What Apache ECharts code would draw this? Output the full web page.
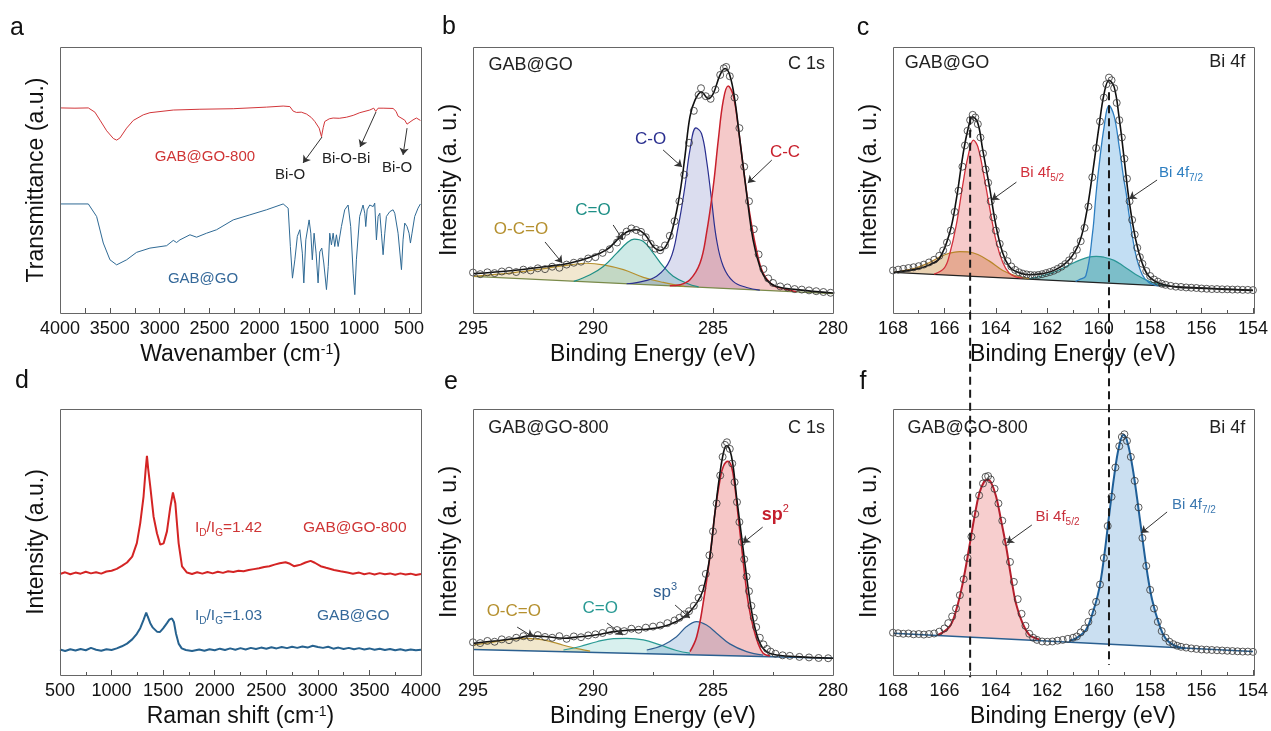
<!DOCTYPE html>
<html lang="en">
<head>
<meta charset="UTF-8">
<title>FTIR / Raman / XPS</title>
<script src="https://cdn.jsdelivr.net/npm/echarts@6/dist/echarts.min.js"></script>
<style>
  html, body { margin: 0; padding: 0; background: #fff; }
  #main { width: 1271px; height: 731px; }
</style>
</head>
<body>
<div id="main"></div>
<script>
// ---------- data ----------
// (a) FTIR, wavenumber (cm-1) vs transmittance (a.u.)
var ftirTicks = [4000, 3500, 3000, 2500, 2000, 1500, 1000, 500];
var ftirMinorTicks = [4000, 3750, 3500, 3250, 3000, 2750, 2500, 2250, 2000, 1750, 1500, 1250, 1000, 750, 500];
var ftirGO800 = [[4000,77.1],[3850,77.0],[3716,77.1],[3650,75.5],[3599,72.5],[3532,68.5],[3465,65.6],[3432,65.0],[3399,65.8],[3332,69.5],[3265,72.4],[3165,74.5],[3098,75.3],[2864,76.3],[2597,76.6],[2263,76.8],[1929,77.4],[1762,77.8],[1695,77.6],[1662,75.9],[1629,75.4],[1580,75.5],[1528,74.8],[1480,73.5],[1445,72.0],[1401,69.5],[1378,66.3],[1360,69.8],[1345,72.0],[1300,73.0],[1261,73.3],[1200,73.2],[1128,73.6],[1060,74.3],[994,75.3],[894,76.3],[854,77.0],[834,75.8],[810,77.0],[760,77.0],[660,76.9],[630,75.8],[610,74.0],[543,72.5],[520,71.0],[510,70.3],[490,71.8],[460,72.6],[426,73.3],[386,72.4]];
var ftirGO = [[4000,41.0],[3716,41.0],[3633,36.3],[3566,26.3],[3499,20.0],[3432,18.1],[3332,20.0],[3232,22.8],[3098,24.4],[2931,25.3],[2864,27.3],[2831,26.5],[2797,27.5],[2697,29.4],[2630,28.5],[2530,30.0],[2430,31.3],[2263,35.0],[2096,36.9],[1929,38.8],[1762,41.0],[1745,41.5],[1712,39.4],[1690,25.0],[1669,13.1],[1645,20.0],[1620,28.8],[1595,31.3],[1570,22.5],[1555,11.3],[1535,27.5],[1502,35.0],[1485,30.0],[1470,20.0],[1452,30.0],[1432,22.5],[1412,11.3],[1395,23.0],[1375,24.4],[1355,18.8],[1328,8.8],[1310,17.5],[1295,30.0],[1278,25.6],[1261,30.0],[1245,25.0],[1228,29.4],[1211,25.0],[1178,32.5],[1145,38.8],[1111,40.6],[1085,32.5],[1060,15.0],[1044,6.9],[1028,20.0],[995,36.3],[961,40.6],[944,37.5],[934,32.5],[920,38.8],[894,40.6],[860,40.0],[844,41.3],[827,27.5],[810,36.3],[793,37.5],[777,30.0],[760,21.9],[743,30.0],[727,36.3],[693,38.1],[660,38.8],[643,37.5],[610,30.0],[576,16.3],[560,27.5],[543,33.8],[520,32.5],[500,30.0],[486,26.3],[470,30.0],[443,36.3],[410,39.4],[386,41.0]];

// (d) Raman, shift (cm-1) vs intensity
var ramanGO800 = [[500,38.0],[550,38.6],[600,37.9],[650,38.5],[700,38.1],[750,38.8],[800,38.2],[850,38.6],[900,38.1],[950,38.9],[1000,39.2],[1050,39.9],[1100,41.0],[1150,42.3],[1200,44.5],[1245,49.6],[1278,57.1],[1310,67.1],[1330,77.0],[1343,82.4],[1355,77.5],[1375,70.9],[1407,59.6],[1440,53.3],[1472,49.0],[1505,49.5],[1537,54.0],[1569,63.0],[1595,68.6],[1618,64.6],[1635,56.5],[1650,49.6],[1683,40.8],[1731,38.5],[1780,38.0],[1830,38.6],[1880,38.1],[1930,38.7],[1980,38.2],[2030,38.8],[2080,38.4],[2130,39.0],[2180,38.7],[2230,39.2],[2280,39.0],[2330,39.5],[2380,39.8],[2430,40.1],[2480,40.6],[2530,40.9],[2580,41.5],[2630,42.0],[2687,42.4],[2730,41.8],[2768,40.9],[2800,41.2],[2833,41.5],[2880,42.3],[2930,42.9],[2970,42.2],[3027,40.9],[3080,40.3],[3157,39.5],[3220,39.0],[3287,38.5],[3340,38.1],[3400,38.5],[3450,37.9],[3500,38.3],[3550,37.8],[3600,38.3],[3650,37.9],[3700,38.2],[3750,37.7],[3800,38.2],[3850,37.8],[3900,38.1],[3950,37.6],[4000,38.0]];
var ramanGO = [[500,9.6],[550,9.0],[600,9.7],[650,9.2],[700,9.8],[750,9.3],[800,10.2],[850,9.5],[900,9.1],[950,9.7],[1000,9.4],[1050,10.0],[1100,10.8],[1150,11.8],[1200,13.4],[1245,15.5],[1278,17.6],[1310,20.7],[1336,23.5],[1350,22.0],[1375,19.5],[1400,17.8],[1440,16.3],[1470,16.2],[1500,17.5],[1537,19.5],[1560,20.8],[1585,21.3],[1605,19.8],[1625,15.5],[1650,11.8],[1680,10.0],[1720,9.4],[1780,9.0],[1850,9.6],[1900,9.1],[1950,9.7],[2000,9.3],[2050,9.9],[2100,9.4],[2150,10.0],[2200,9.5],[2250,10.1],[2300,9.6],[2350,10.2],[2400,9.8],[2450,10.3],[2500,9.9],[2550,10.4],[2600,10.0],[2650,10.5],[2700,10.1],[2750,10.6],[2800,10.2],[2850,10.7],[2900,10.3],[2950,11.0],[3000,10.5],[3050,10.2],[3100,10.6],[3150,9.9],[3200,10.3],[3250,9.8],[3300,10.2],[3350,9.7],[3400,10.1],[3450,9.6],[3500,10.0],[3550,9.5],[3600,9.9],[3650,9.4],[3700,9.8],[3750,9.3],[3800,9.7],[3850,9.2],[3900,9.6],[3950,9.3],[4000,9.5]];

// (b) C 1s, GAB@GO
var c1sGOPoints = [[295,15.2],[294.7,14.6],[294.4,15.3],[294.1,15.0],[293.8,15.6],[293.5,15.9],[293.2,15.4],[292.9,16.3],[292.6,16.0],[292.3,16.8],[292.0,16.5],[291.7,17.4],[291.4,17.0],[291.1,18.2],[290.8,18.9],[290.5,19.3],[290.2,20.5],[289.9,21.0],[289.6,22.6],[289.3,24.0],[289.0,26.5],[288.8,29.0],[288.6,30.6],[288.4,31.8],[288.2,31.2],[288.0,30.5],[287.8,28.5],[287.6,26.0],[287.4,24.2],[287.2,23.6],[287.0,25.4],[286.8,29.0],[286.6,34.5],[286.4,42.0],[286.2,52.0],[286.0,64.0],[285.8,76.0],[285.6,82.0],[285.5,84.5],[285.3,81.5],[285.1,80.5],[284.9,84.0],[284.7,89.5],[284.55,92.0],[284.45,92.5],[284.3,89.0],[284.1,81.0],[283.9,69.5],[283.7,55.0],[283.5,42.0],[283.3,31.5],[283.1,22.0],[282.9,16.5],[282.7,13.0],[282.5,11.3],[282.2,10.0],[281.9,9.6],[281.6,9.0],[281.3,8.8],[281.0,8.5],[280.7,8.2],[280.4,7.9],[280.1,7.6]];
var c1sGOFit = [[295,14.8],[293.31,16.0],[291.92,17.5],[290.95,18.8],[290.12,21.0],[289.43,23.8],[288.87,28.5],[288.46,31.0],[288.18,31.3],[287.83,29.4],[287.49,25.0],[287.21,23.5],[286.93,25.6],[286.66,32.5],[286.38,45.0],[286.17,58.8],[285.96,73.8],[285.75,80.0],[285.48,83.1],[285.2,80.6],[284.99,82.5],[284.71,89.4],[284.5,91.9],[284.3,89.4],[284.09,80.0],[283.88,65.0],[283.6,45.0],[283.33,27.5],[283.05,17.5],[282.77,12.5],[282.36,10.0],[281.52,8.8],[280,7.5]];
var c1sGOBase = [[295,13.75],[280,7.25]];
var c1sGO_OCO = [[295,13.8],[293.3,15.2],[291.9,16.9],[290.95,18.1],[290.26,18.7],[289.57,18.1],[288.73,16.3],[287.9,13.4],[287.07,11.5],[286.2,10.0]];
var c1sGO_CdO = [[290.8,11.9],[290.12,14.4],[289.57,17.5],[289.01,22.5],[288.59,26.3],[288.29,27.8],[287.9,26.9],[287.49,22.5],[287.07,17.5],[286.66,13.8],[286.1,11.2],[285.6,9.8]];
var c1sGO_CO = [[288.6,11.0],[288.18,11.4],[287.35,13.8],[286.79,20.0],[286.45,32.5],[286.17,47.5],[285.96,61.3],[285.71,69.6],[285.48,67.5],[285.27,57.5],[285.06,42.5],[284.85,27.5],[284.57,17.5],[284.16,11.9],[283.6,9.6],[283.05,8.6]];
var c1sGO_CC = [[286.8,10.2],[286.38,10.6],[285.96,12.5],[285.54,18.8],[285.27,30.0],[284.99,47.5],[284.78,65.0],[284.57,80.0],[284.37,85.3],[284.16,81.9],[283.95,70.0],[283.74,55.0],[283.47,37.5],[283.19,23.8],[282.91,15.0],[282.5,10.4],[282.08,9.2],[281.52,8.0]];

// (c) Bi 4f, GAB@GO
var bi4fGOPoints = [[168,16.0],[167.8,16.3],[167.6,16.6],[167.4,16.9],[167.2,17.2],[167.0,17.6],[166.8,18.2],[166.6,19.0],[166.4,20.0],[166.2,21.5],[166.05,23.5],[165.9,26.5],[165.75,31],[165.6,38],[165.45,46],[165.3,55],[165.2,63],[165.1,68.5],[165.0,72.5],[164.9,74.5],[164.8,73.5],[164.7,71],[164.6,66],[164.5,60],[164.4,54],[164.3,49],[164.2,42],[164.1,36],[164.0,31],[163.85,26],[163.7,22],[163.55,19.5],[163.4,17.5],[163.25,16.2],[163.1,15.3],[162.95,14.8],[162.8,14.5],[162.65,14.3],[162.5,14.2],[162.35,14.3],[162.2,14.6],[162.05,15.0],[161.9,15.4],[161.75,15.9],[161.6,16.6],[161.45,17.4],[161.3,18.4],[161.15,19.8],[161.0,21.5],[160.85,23.8],[160.7,27],[160.55,32],[160.4,40],[160.25,51],[160.1,62],[159.95,72],[159.8,81],[159.7,86],[159.6,88.5],[159.5,87.5],[159.4,84.5],[159.3,79],[159.2,72.5],[159.1,66],[159.0,58],[158.9,50.5],[158.8,42],[158.7,35],[158.6,29.5],[158.5,24.5],[158.4,21],[158.3,18.5],[158.15,15.8],[158.0,13.9],[157.85,12.6],[157.7,11.8],[157.55,11.0],[157.4,10.6],[157.2,10.2],[157.0,9.9],[156.8,9.8],[156.6,9.6],[156.4,9.5],[156.2,9.4],[156.0,9.2],[155.8,9.1],[155.6,9.0],[155.4,9.0],[155.2,8.9],[155.0,8.9],[154.8,8.8],[154.6,8.8],[154.4,8.7],[154.2,8.7],[154.0,8.6]];
var bi4fGOFit = [[168,15.25],[167.1,16.5],[166.58,18.1],[166.19,20.6],[165.8,30.0],[165.54,42.5],[165.29,58.8],[165.09,68.8],[164.9,73.8],[164.7,71.3],[164.51,61.3],[164.25,47.5],[163.99,32.5],[163.73,22.5],[163.48,17.5],[163.22,15.6],[162.7,14.4],[162.18,14.8],[161.67,16.3],[161.15,20.0],[160.76,26.3],[160.5,36.3],[160.24,52.5],[159.99,70.0],[159.79,82.5],[159.6,87.5],[159.4,85.0],[159.21,73.8],[159.02,58.8],[158.82,42.5],[158.56,27.5],[158.31,18.8],[158.05,13.8],[157.66,11.3],[157.01,9.8],[156.11,9.3],[155.07,8.9],[154,8.5]];
var bi4fGOBase = [[168,15.25],[154,8.5]];
var bi4fGO_sat52 = [[168,15.3],[167.1,17.0],[166.58,19.0],[166.19,21.0],[165.8,22.5],[165.41,23.1],[165.09,23.0],[164.7,22.0],[164.25,19.5],[163.73,16.0],[163.22,14.0],[162.7,12.9]];
var bi4fGO_52 = [[166.4,14.6],[166.0,17.0],[165.8,22.0],[165.54,33.0],[165.29,48.0],[165.09,58.5],[164.87,65.0],[164.7,62.5],[164.51,54.0],[164.25,40.0],[163.99,27.0],[163.73,19.0],[163.48,15.0],[163.22,13.6],[162.96,13.2]];
var bi4fGO_sat72 = [[162.7,12.9],[162.2,14.0],[161.67,15.6],[161.15,18.0],[160.76,19.8],[160.4,21.0],[160.1,21.3],[159.8,21.0],[159.4,19.8],[159.02,17.5],[158.56,14.5],[158.05,12.0],[157.66,10.9],[157.27,10.3]];
var bi4fGO_72 = [[160.9,11.9],[160.76,12.5],[160.5,14.0],[160.24,30.0],[160.11,44.0],[159.99,55.0],[159.79,70.0],[159.6,78.0],[159.4,74.0],[159.21,63.0],[159.02,50.0],[158.93,45.0],[158.82,37.0],[158.56,22.0],[158.31,14.5],[158.05,11.5],[157.66,10.2]];

// (e) C 1s, GAB@GO-800
var c1s800Points = [[295,12.3],[294.7,12.0],[294.4,12.8],[294.1,12.5],[293.8,13.4],[293.5,13.1],[293.2,14.0],[292.9,14.6],[292.6,14.2],[292.3,15.0],[292.0,14.3],[291.7,14.0],[291.4,14.6],[291.1,13.6],[290.8,14.5],[290.5,14.2],[290.2,14.9],[289.9,15.3],[289.6,15.8],[289.3,16.6],[289.0,16.9],[288.7,16.5],[288.4,17.4],[288.1,17.0],[287.8,17.8],[287.5,18.2],[287.2,18.6],[286.9,19.5],[286.6,20.5],[286.4,21.5],[286.2,22.8],[286.0,24.0],[285.8,26.0],[285.6,29.0],[285.45,32.5],[285.3,38.0],[285.15,45.0],[285.0,54.0],[284.85,64.5],[284.7,75.0],[284.6,82.0],[284.5,86.5],[284.42,87.5],[284.3,85.0],[284.2,79.5],[284.1,72.5],[284.0,65.0],[283.9,57.5],[283.8,50.0],[283.7,43.5],[283.6,37.0],[283.5,31.5],[283.4,26.0],[283.3,21.5],[283.2,18.0],[283.05,14.0],[282.9,11.5],[282.75,9.8],[282.6,8.8],[282.4,8.0],[282.1,7.4],[281.8,7.2],[281.4,6.8],[281.0,6.6],[280.6,6.4],[280.2,6.3]];
var c1s800Fit = [[295,11.9],[294.0,12.9],[293.17,13.8],[292.62,14.7],[291.92,14.4],[291.23,13.8],[290.54,14.4],[289.84,15.1],[289.15,16.3],[288.46,16.9],[287.76,17.2],[287.07,18.2],[286.52,20.1],[286.1,22.6],[285.68,27.0],[285.41,32.0],[285.13,44.5],[284.92,60.9],[284.71,75.9],[284.55,84.1],[284.44,86.2],[284.3,84.7],[284.16,78.4],[284.02,67.1],[283.81,52.1],[283.6,37.0],[283.4,24.5],[283.19,15.7],[282.91,10.0],[282.5,7.8],[281.52,6.9],[280,6.3]];
var c1s800Base = [[295,9.6],[280,6.3]];
var c1s800_OCO = [[295,11.2],[294.28,12.2],[293.59,13.2],[292.75,13.8],[292.06,13.2],[291.23,11.2],[290.54,9.7],[290.12,9.0]];
var c1s800_CdO = [[291.23,9.4],[290.54,10.7],[289.84,12.5],[289.15,13.7],[288.59,13.8],[287.9,13.2],[287.21,11.3],[286.52,9.2],[285.96,8.2]];
var c1s800_sp3 = [[287.76,9.4],[287.07,11.3],[286.52,14.4],[286.1,18.2],[285.68,20.1],[285.27,18.8],[284.85,15.7],[284.3,11.7],[283.6,8.8],[282.91,7.5]];
var c1s800_sp2 = [[285.96,8.8],[285.68,14.4],[285.41,27.0],[285.13,44.5],[284.92,60.9],[284.71,73.4],[284.57,78.4],[284.39,80.3],[284.23,78.4],[284.09,70.9],[283.95,59.6],[283.81,48.3],[283.67,37.0],[283.53,27.0],[283.33,18.2],[283.12,11.9],[282.91,8.2],[282.63,7.2]];

// (f) Bi 4f, GAB@GO-800
var bi4f800Points = [[168,15.9],[167.8,15.7],[167.6,15.5],[167.4,15.6],[167.2,15.3],[167.0,15.4],[166.8,15.2],[166.6,15.4],[166.4,15.6],[166.2,16.3],[166.0,17.5],[165.85,19.5],[165.7,22],[165.55,25],[165.4,30],[165.25,36],[165.1,44],[164.95,52],[164.8,60.5],[164.65,67.5],[164.5,72],[164.4,74.5],[164.3,74.8],[164.2,73.5],[164.05,70],[163.9,64.5],[163.75,58],[163.6,50],[163.45,42.5],[163.3,35],[163.15,28.5],[163.0,23],[162.85,18.5],[162.7,15.5],[162.55,14.0],[162.4,13.2],[162.2,12.6],[162.0,12.5],[161.8,12.6],[161.6,12.9],[161.4,13.2],[161.2,13.6],[161.0,14.0],[160.85,14.5],[160.7,16],[160.55,17.5],[160.4,20],[160.25,23.5],[160.1,27.5],[159.95,34],[159.8,44],[159.65,56],[159.5,67],[159.35,78],[159.2,86],[159.1,89.5],[159.0,90.5],[158.9,88],[158.75,82],[158.6,73],[158.45,63],[158.3,51.5],[158.15,41],[158.0,32],[157.85,25],[157.7,20],[157.55,16.5],[157.4,14],[157.25,12.5],[157.1,11.6],[156.95,11.0],[156.8,10.6],[156.6,10.3],[156.4,10.0],[156.2,9.8],[156.0,9.6],[155.8,9.5],[155.6,9.4],[155.4,9.3],[155.2,9.2],[155.0,9.1],[154.8,9.0],[154.6,8.9],[154.4,8.8],[154.2,8.8],[154.0,8.7]];
var bi4f800Base = [[168,15.7],[154,8.8]];
var bi4f800_52 = [[166.25,15.1],[165.8,18.2],[165.54,24.5],[165.29,34.5],[165.03,48.3],[164.83,59.6],[164.64,68.4],[164.45,72.8],[164.32,73.4],[164.19,72.5],[163.99,67.1],[163.8,58.3],[163.6,48.3],[163.41,37.0],[163.22,27.0],[162.96,19.4],[162.7,15.1],[162.44,13.8],[162.31,13.4]];
var bi4f800_72 = [[161.15,12.9],[160.89,13.8],[160.5,16.9],[160.24,23.2],[159.99,32.0],[159.79,44.5],[159.6,59.6],[159.4,74.7],[159.21,85.9],[159.04,90.3],[158.89,87.8],[158.69,78.4],[158.5,65.9],[158.31,52.1],[158.11,38.3],[157.92,28.2],[157.66,19.4],[157.4,13.8],[157.01,10.9],[156.62,10.0]];

// dashed guide lines through c and f (eV)
var guideEnergies = [165.0, 159.6];
var guideTopInC = [73.75, 83.0];
var guideBottomInF = [-0.8, 3.8];

// ---------- layout ----------
var FONT = '"Liberation Sans", Arial, sans-serif';
var grids = [
    { left: 60,  top: 47,  width: 361, height: 266 },
    { left: 473, top: 47,  width: 360, height: 266 },
    { left: 893, top: 47,  width: 361, height: 266 },
    { left: 60,  top: 409, width: 361, height: 266 },
    { left: 473, top: 409, width: 360, height: 266 },
    { left: 893, top: 409, width: 361, height: 266 }
];
var RED = '#cf3535', BLUE = '#35699a';
var SUB = { sub: { font: '10px ' + FONT, verticalAlign: 'bottom', lineHeight: 10 },
            sup: { font: '11px ' + FONT, verticalAlign: 'top', lineHeight: 11 } };
function plain(v) { return String(v); }

function xAxis(i, cfg) {
    var ax = {
        gridIndex: i, type: 'value', z: 10,
        nameLocation: 'middle', nameGap: 30,
        nameTextStyle: { fontFamily: FONT, fontSize: 23, color: '#111', lineHeight: 24,
            rich: { sup: { fontFamily: FONT, fontSize: 14, verticalAlign: 'top', lineHeight: 14, color: '#111' } } },
        axisLine: { show: false },
        axisTick: { show: true, inside: true, length: 5, lineStyle: { color: '#555' } },
        minorTick: { show: true, splitNumber: 2, length: 3, lineStyle: { color: '#555' } },
        axisLabel: { fontFamily: FONT, fontSize: 18, color: '#111', margin: 7, formatter: plain },
        splitLine: { show: false }
    };
    for (var k in cfg) ax[k] = cfg[k];
    return ax;
}
function yAxis(i, name) {
    return {
        gridIndex: i, type: 'value', min: 0, max: 100,
        name: name, nameLocation: 'middle', nameGap: 12,
        nameTextStyle: { fontFamily: FONT, fontSize: 23, color: '#111' },
        axisLine: { show: false }, axisTick: { show: false }, axisLabel: { show: false },
        splitLine: { show: false }
    };
}

// plain line
function curve(i, data, color, width, z, smooth) {
    return { type: 'line', xAxisIndex: i, yAxisIndex: i, data: data, showSymbol: false,
             smooth: smooth, lineStyle: { color: color, width: width }, z: z, silent: true };
}
// filled component (fill only, line drawn separately)
function fill(i, data, color) {
    return { type: 'line', xAxisIndex: i, yAxisIndex: i, data: data, showSymbol: false,
             smooth: 0.4, lineStyle: { width: 0 }, areaStyle: { color: color, opacity: 1 }, z: 1, silent: true };
}
// white area under the background line hides the fills below it
function mask(i, data) {
    return { type: 'line', xAxisIndex: i, yAxisIndex: i, data: data, showSymbol: false,
             lineStyle: { width: 0 }, areaStyle: { color: '#fff', opacity: 1, origin: 'start' }, z: 2, silent: true };
}
function points(i, data, arrows) {
    return { type: 'scatter', xAxisIndex: i, yAxisIndex: i, data: data, symbol: 'circle', symbolSize: 7,
             itemStyle: { color: 'rgba(255,255,255,0)', borderColor: '#333', borderWidth: 1 }, z: 5, silent: true,
             markLine: arrowLines(arrows) };
}
function arrowLines(list) {
    return { silent: true, symbol: ['none', 'arrow'], symbolSize: 7, animation: false,
             lineStyle: { color: '#333', width: 1, type: 'solid' }, label: { show: false },
             data: list.map(function (a) { return [{ coord: a[0] }, { coord: a[1] }]; }) };
}

var arrowsA = [[[1372,66.2],[1563,56.4]], [[831,75.6],[991,62.4]], [[520,69.5],[560,59.4]]];
var arrowsB = [[[292.0,26.7],[291.28,18.8]], [[289.16,33.1],[288.75,27.4]], [[287.08,61.3],[286.29,54.9]], [[282.55,57.5],[283.55,48.9]]];
var arrowsC = [[[163.2,49.2],[164.16,42.5]], [[157.73,50],[158.81,42.9]]];
var arrowsE = [[[282.93,55.6],[283.76,49.6]], [[286.58,26.3],[285.96,21.4]], [[289.41,19.5],[288.75,15.0]], [[293.16,18.0],[292.49,14.3]]];
var arrowsF = [[[162.6,56.4],[163.58,49.6]], [[157.34,61.3],[158.35,53.4]]];

// text notes: [grid, x, y, text, colour, size, align, weight]
var notes = [
    [0, 2546, 58.6, 'GAB@GO-800', RED, 15], [0, 1693, 51.9, 'Bi-O', '#222', 15],
    [0, 1131, 57.9, 'Bi-O-Bi', '#222', 15], [0, 620, 54.5, 'Bi-O', '#222', 15],
    [0, 2566, 12.8, 'GAB@GO', BLUE, 15],
    [1, 292.6, 93.2, 'GAB@GO', '#222', 18], [1, 281.1, 93.6, 'C 1s', '#222', 18],
    [1, 293.0, 31.6, 'O-C=O', '#b5902f', 17], [1, 290.0, 38.7, 'C=O', '#1e8f86', 17],
    [1, 287.6, 65.4, 'C-O', '#2a2f8f', 17], [1, 282.0, 60.5, 'C-C', '#c8202c', 17],
    [2, 165.9, 94.0, 'GAB@GO', '#222', 18], [2, 155.0, 94.4, 'Bi 4f', '#222', 18],
    [2, 162.2, 52.6, 'Bi 4f{sub|5/2}', '#d2303c', 15], [2, 156.8, 52.6, 'Bi 4f{sub|7/2}', '#2d7ec0', 15],
    [3, 1809, 55.3, 'I{sub|D}/I{sub|G}=1.42', RED, 15.5, 'left'], [3, 2856, 55.3, 'GAB@GO-800', RED, 15.5, 'left'],
    [3, 1809, 22.2, 'I{sub|D}/I{sub|G}=1.03', BLUE, 15.5, 'left'], [3, 2992, 22.2, 'GAB@GO', BLUE, 15.5, 'left'],
    [4, 291.86, 92.9, 'GAB@GO-800', '#222', 18], [4, 281.1, 92.9, 'C 1s', '#222', 18],
    [4, 282.4, 60.2, 'sp{sup|2}', '#c41e2c', 18, 'center', 'bold'], [4, 287.0, 31.2, 'sp{sup|3}', '#2f5f92', 17],
    [4, 289.7, 25.2, 'C=O', '#2a9a94', 17], [4, 293.3, 24.1, 'O-C=O', '#b5902f', 17],
    [5, 165.1, 92.9, 'GAB@GO-800', '#222', 18], [5, 155.0, 92.9, 'Bi 4f', '#222', 18],
    [5, 161.6, 59.4, 'Bi 4f{sub|5/2}', '#c8303c', 15], [5, 156.3, 63.9, 'Bi 4f{sub|7/2}', '#3b78b0', 15]
];
var letters = [['a', 17, 28], ['b', 449, 27], ['c', 863, 28], ['d', 22, 381], ['e', 451, 382], ['f', 863, 382]];

var BE = 'Binding Energy (eV)';
var option = {
    animation: false,
    backgroundColor: '#fff',
    grid: grids,
    xAxis: [
        xAxis(0, { min: 380, max: 4000, inverse: true, name: 'Wavenamber (cm{sup|-1})',
                   axisLabel: { fontFamily: FONT, fontSize: 18, color: '#111', margin: 7, formatter: plain, customValues: ftirTicks },
                   axisTick: { show: true, inside: true, length: 5, lineStyle: { color: '#555' }, customValues: ftirMinorTicks },
                   minorTick: { show: false } }),
        xAxis(1, { min: 280, max: 295, interval: 5, inverse: true, name: BE }),
        xAxis(2, { min: 154, max: 168, interval: 2, inverse: true, name: BE }),
        xAxis(3, { min: 500, max: 4000, interval: 500, name: 'Raman shift (cm{sup|-1})' }),
        xAxis(4, { min: 280, max: 295, interval: 5, inverse: true, name: BE }),
        xAxis(5, { min: 154, max: 168, interval: 2, inverse: true, name: BE })
    ],
    yAxis: [
        yAxis(0, 'Transmittance (a.u.)'), yAxis(1, 'Intensity (a. u.)'), yAxis(2, 'Intensity (a. u.)'),
        yAxis(3, 'Intensity (a.u.)'), yAxis(4, 'Intensity (a. u.)'), yAxis(5, 'Intensity (a. u.)')
    ],
    series: [
        // a
        (function () { var s = curve(0, ftirGO800, '#d2363a', 1, 3, false); s.markLine = arrowLines(arrowsA); return s; })(),
        curve(0, ftirGO, '#2f6a95', 1, 3, false),
        // b
        fill(1, c1sGO_OCO, 'rgba(215,185,120,0.35)'),
        fill(1, c1sGO_CdO, 'rgba(60,170,160,0.25)'),
        fill(1, c1sGO_CO, 'rgba(90,100,180,0.22)'),
        fill(1, c1sGO_CC, 'rgba(220,60,60,0.28)'),
        mask(1, c1sGOBase),
        curve(1, c1sGOBase, '#7a8a4a', 1.2, 3, false),
        curve(1, c1sGO_OCO, '#b5902f', 1.2, 3, 0.4),
        curve(1, c1sGO_CdO, '#1e8f86', 1.2, 3, 0.4),
        curve(1, c1sGO_CO, '#2a2f8f', 1.2, 3, 0.4),
        curve(1, c1sGO_CC, '#c8202c', 1.5, 3, 0.4),
        curve(1, c1sGOFit, '#111', 1.6, 4, 0.4),
        points(1, c1sGOPoints, arrowsB),
        // c
        fill(2, bi4fGO_sat52, 'rgba(200,140,60,0.4)'),
        fill(2, bi4fGO_52, 'rgba(225,80,80,0.3)'),
        fill(2, bi4fGO_72, 'rgba(80,160,220,0.35)'),
        fill(2, bi4fGO_sat72, 'rgba(40,150,150,0.45)'),
        mask(2, bi4fGOBase),
        curve(2, bi4fGOBase, '#222', 1.3, 3, false),
        curve(2, bi4fGO_sat52, '#b8862a', 1.2, 3, 0.4),
        curve(2, bi4fGO_52, '#d2303c', 1.3, 3, 0.4),
        curve(2, bi4fGO_sat72, '#2a9696', 1.2, 3, 0.4),
        curve(2, bi4fGO_72, '#2d7ec0', 1.3, 3, 0.4),
        curve(2, bi4fGOFit, '#111', 1.6, 4, 0.4),
        points(2, bi4fGOPoints, arrowsC),
        // d
        curve(3, ramanGO800, '#d42424', 2, 3, false),
        curve(3, ramanGO, '#26628f', 2, 3, false),
        // e
        fill(4, c1s800_OCO, 'rgba(215,185,110,0.35)'),
        fill(4, c1s800_CdO, 'rgba(60,180,170,0.2)'),
        fill(4, c1s800_sp3, 'rgba(70,130,190,0.25)'),
        fill(4, c1s800_sp2, 'rgba(225,70,70,0.3)'),
        mask(4, c1s800Base),
        curve(4, c1s800Base, '#2a5f90', 1.5, 3, false),
        curve(4, c1s800_OCO, '#b5902f', 1.2, 3, 0.4),
        curve(4, c1s800_CdO, '#2a9a94', 1.2, 3, 0.4),
        curve(4, c1s800_sp3, '#2f5f92', 1.2, 3, 0.4),
        curve(4, c1s800_sp2, '#c41e2c', 1.6, 3, 0.4),
        curve(4, c1s800Fit, '#111', 1.6, 4, 0.4),
        points(4, c1s800Points, arrowsE),
        // f
        fill(5, bi4f800_52, 'rgba(225,80,80,0.28)'),
        fill(5, bi4f800_72, 'rgba(80,150,210,0.3)'),
        mask(5, bi4f800Base),
        curve(5, bi4f800Base, '#2a5f90', 1.5, 3, false),
        curve(5, bi4f800_52, '#b51e2c', 2, 3, 0.4),
        curve(5, bi4f800_72, '#1f5f98', 2, 3, 0.4),
        points(5, bi4f800Points, arrowsF)
    ]
};

var chart = echarts.init(document.getElementById('main'), null, { renderer: 'canvas' });
chart.setOption(option);

// second pass: frames, notes and guide lines placed through the axes
function px(g, pt) { return chart.convertToPixel({ gridIndex: g }, pt); }
var graphic = [];
grids.forEach(function (g) {
    graphic.push({ type: 'rect', z: 100, silent: true,
        shape: { x: g.left + 0.5, y: g.top + 0.5, width: g.width, height: g.height },
        style: { fill: 'none', stroke: '#666', lineWidth: 1 } });
});
letters.forEach(function (l) {
    graphic.push({ type: 'text', z: 100, x: l[1], y: l[2], silent: true,
        style: { text: l[0], font: '25px ' + FONT, fill: '#111', align: 'center', verticalAlign: 'middle' } });
});
notes.forEach(function (n) {
    var p = px(n[0], [n[1], n[2]]);
    graphic.push({ type: 'text', z: 100, x: p[0], y: p[1], silent: true,
        style: { text: n[3], fill: n[4], font: (n[7] || 'normal') + ' ' + n[5] + 'px ' + FONT,
                 lineHeight: Math.round(n[5] * 1.3), align: n[6] || 'center', verticalAlign: 'middle', rich: SUB } });
});
guideEnergies.forEach(function (e, k) {
    var top = px(2, [e, guideTopInC[k]]);
    var bot = px(5, [e, guideBottomInF[k]]);
    graphic.push({ type: 'line', z: 101, silent: true,
        shape: { x1: top[0], y1: top[1], x2: bot[0], y2: bot[1] },
        style: { stroke: '#1a1a1a', lineWidth: 2, lineDash: [8, 5] } });
});
chart.setOption({ graphic: graphic });
</script>
</body>
</html>
